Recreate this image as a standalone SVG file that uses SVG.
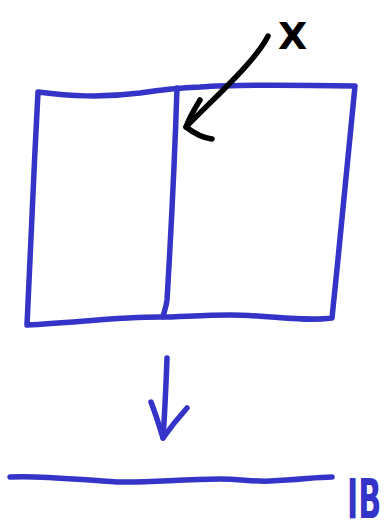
<svg xmlns="http://www.w3.org/2000/svg" width="387" height="531" viewBox="0 0 387 531">
<style>
.blue{fill:none;stroke:#3434c8;stroke-width:5.5;stroke-linecap:round;stroke-linejoin:round}
.black{fill:none;stroke:#000;stroke-width:5.5;stroke-linecap:round;stroke-linejoin:round}
.lbl{font-family:"DejaVu Sans",sans-serif;font-weight:bold}
</style>
<rect width="387" height="531" fill="#fff"/>
<g id="box">
<path class="blue" d="M38,92 C70,96 100,98 140,93 C160,90 175,88 200,87 C240,84 300,85 355,86 C348,160 340,240 332,318 C300,322 270,315 230,315 C200,315 180,317 160,317 C120,317 80,322 27,325 C30,250 34,170 38,92 Z"/>
<path class="blue" d="M177,88 C175,150 170,250 167,300 C166,308 164,312 163,317"/>
</g>
<g id="label-x">
<text class="lbl" x="278" y="49" font-size="38" fill="#000">X</text>
</g>
<g id="baseline">
<path class="blue" d="M10,477 C40,475 80,480 117,482 C150,483 180,479 220,479 C240,479 255,482 270,481 C300,480 315,477 332,477"/>
</g>
<g id="label-ib">
<text class="lbl" transform="translate(347,518) scale(0.54,1)" x="0" y="0" font-size="56" fill="#3434c8">IB</text>
</g>
<g id="connectors">
<path class="black" d="M268,36 C255,62 215,97 186,127"/>
<path class="black" d="M200,100 C194,110 189,118 186,127 C195,134 203,138 212,139"/>
<path class="blue" d="M167,358 C166,385 165,410 163,438"/>
<path class="blue" d="M151,402 C156,415 160,428 163,438 C170,428 178,418 187,408"/>
</g>
</svg>
